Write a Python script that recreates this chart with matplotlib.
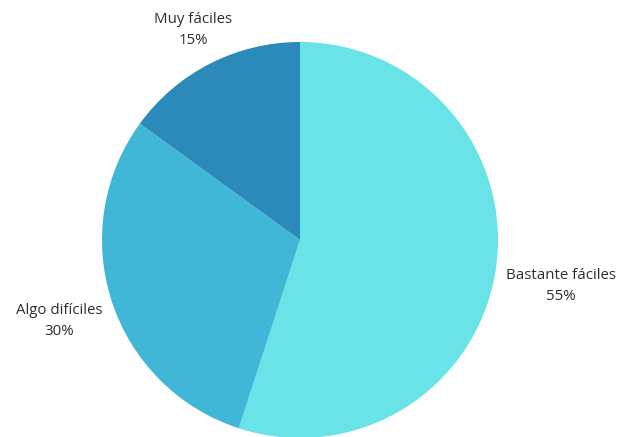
import matplotlib.pyplot as plt

## Data
labels = ["Bastante fáciles", "Algo difíciles", "Muy fáciles"]
values = [55, 30, 15]
colors = ["#69e3e7", "#41b7d7", "#2b8ab9"]

# label anchor points (pixel coords, y from top)
label_pos = [(561, 286), (59, 321), (193, 30)]

W, H = 621, 437
fig = plt.figure(figsize=(W / 100, H / 100), dpi=100)
ax = fig.add_axes([0, 0, 1, 1])

ax.pie(values, colors=colors, startangle=90, counterclock=False,
       center=(300, H - 240), radius=198,
       wedgeprops=dict(linewidth=0))

# pie() resets the limits, so set them afterwards
ax.set_xlim(0, W)
ax.set_ylim(0, H)
ax.set_aspect("equal")
ax.axis("off")

for lab, val, (x, y) in zip(labels, values, label_pos):
    ax.text(x, H - y, f"{lab}\n{val}%", ha="center", va="center",
            fontsize=10.8, family=["Open Sans", "DejaVu Sans"],
            color="#2e2e2e", linespacing=1.5)

fig.savefig("out.png", dpi=100)
